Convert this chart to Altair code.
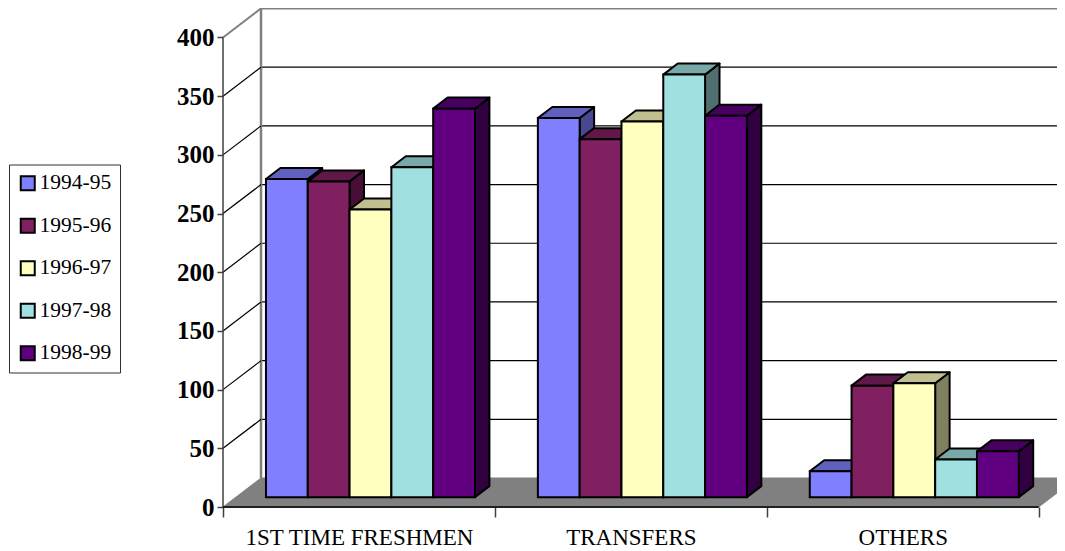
import altair as alt
import pandas as pd

SERIES = ["1994-95", "1995-96", "1996-97", "1997-98", "1998-99"]
CATEGORIES = ["1ST TIME FRESHMEN", "TRANSFERS", "OTHERS"]
V_1994 = [271, 323, 22]
V_1995 = [269, 305, 95]
V_1996 = [245, 320, 97]
V_1997 = [281, 360, 32]
V_1998 = [331, 325, 39]
VALUES = [V_1994, V_1995, V_1996, V_1997, V_1998]
TICKS = [0, 50, 100, 150, 200, 250, 300, 350, 400]

FRONT = ["#8080FF", "#802060", "#FFFFC0", "#A0E0E0", "#600080"]
TOP = ["#6060BF", "#601848", "#BFBF90", "#78A8A8", "#480060"]
SIDE = ["#484890", "#480F36", "#808060", "#507070", "#300040"]

FONT = "Liberation Serif"

# layout, in pixels of the plot area
PLOT_W, PLOT_H = 834, 499
SLOT_PX = 271.9
PX_PER_UNIT = 1.17375

# oblique projection of the 3-D box, expressed in data units
DEPTH_X = 38 / SLOT_PX
DEPTH_Y = 29 / PX_PER_UNIT
X_END = PLOT_W / SLOT_PX
Y_END = PLOT_H / PX_PER_UNIT
BAR_W = 41.8 / SLOT_PX
GAP = (1 - 5 * BAR_W) / 2 - 1.4 / SLOT_PX
Z_FRONT, Z_BACK = 0.34, 0.72


def px(x, z):
    return x + z * DEPTH_X


def py(v, z):
    return v + z * DEPTH_Y


xscale = alt.Scale(domain=[0, X_END], nice=False, zero=False)
yscale = alt.Scale(domain=[0, Y_END], nice=False, zero=False)

label_expr = "".join(
    f"datum.value == {i + 0.5} ? '{c}' : " for i, c in enumerate(CATEGORIES)
) + "''"

x_axis = alt.Axis(
    values=[0, 0.5, 1, 1.5, 2, 2.5, 3],
    title=None,
    grid=False,
    domain=False,
    tickSize=10,
    tickWidth=1.5,
    tickColor="#404040",
    tickOpacity={"condition": {"test": "datum.value % 1 != 0", "value": 0}, "value": 1},
    labelExpr=label_expr,
    labelFont=FONT,
    labelFontSize=23,
    labelColor="black",
    labelPadding=9,
    labelOverlap=False,
    labelFlush=False,
    labelBound=False,
    labelLimit=500,
)
y_axis = alt.Axis(
    values=TICKS,
    title=None,
    grid=False,
    domain=False,
    tickSize=6,
    tickWidth=1.5,
    tickColor="#404040",
    labelFont=FONT,
    labelFontSize=25,
    labelFontWeight="bold",
    labelColor="black",
    labelPadding=3,
    labelOverlap=False,
    labelBound=False,
)


def X():
    return alt.X("x:Q", scale=xscale, axis=x_axis)


def Y():
    return alt.Y("y:Q", scale=yscale, stack=None, axis=y_axis)


layers = []

# floor
fx0, fx1 = 0, 3
floor = pd.DataFrame(
    {
        "x": [px(fx0, 0), px(fx0, 1), px(fx1, 0), px(fx1, 1)],
        "y": [py(0, 0), py(0, 1), py(0, 1), py(0, 1)],
        "y2": [py(0, 0), py(0, 0), py(0, 0), py(0, 1)],
    }
)
layers.append(
    alt.Chart(floor)
    .mark_area(orient="vertical", fill="#808080", opacity=1, stroke="#808080", strokeWidth=1)
    .encode(x=X(), y=Y(), y2="y2:Q")
)

# back wall gridlines
grid = pd.DataFrame(
    {"x": px(0, 1), "x2": X_END, "y": [py(t, 1) for t in TICKS if 0 < t < 400]}
)
layers.append(
    alt.Chart(grid)
    .mark_rule(color="black", strokeWidth=1.2)
    .encode(x=X(), x2="x2:Q", y=Y())
)
top_line = pd.DataFrame({"x": [px(0, 1)], "x2": [X_END], "y": [py(400, 1)]})
layers.append(
    alt.Chart(top_line)
    .mark_rule(color="#808080", strokeWidth=2)
    .encode(x=X(), x2="x2:Q", y=Y())
)
wall = pd.DataFrame({"x": [px(0, 1)], "y": [py(0, 1)], "y2": [py(400, 1)]})
layers.append(
    alt.Chart(wall)
    .mark_rule(color="#808080", strokeWidth=2.5)
    .encode(x=X(), y=Y(), y2="y2:Q")
)

# oblique side-wall ticks
rows = []
for t in TICKS[1:]:
    rows.append({"t": t, "x": px(0, 0), "y": py(t, 0)})
    rows.append({"t": t, "x": px(0, 1), "y": py(t, 1)})
oblique = pd.DataFrame(rows)
layers.append(
    alt.Chart(oblique[oblique.t < 400])
    .mark_line(color="black", strokeWidth=1.2)
    .encode(x=X(), y=Y(), detail="t:N")
)
layers.append(
    alt.Chart(oblique[oblique.t == 400])
    .mark_line(color="#808080", strokeWidth=2)
    .encode(x=X(), y=Y(), detail="t:N")
)

# front axis lines
front_axis = pd.DataFrame({"x": [0], "y": [0], "y2": [400]})
layers.append(
    alt.Chart(front_axis)
    .mark_rule(color="#404040", strokeWidth=1.5)
    .encode(x=X(), y=Y(), y2="y2:Q")
)
base = pd.DataFrame({"x": [0], "x2": [3], "y": [0]})
layers.append(
    alt.Chart(base)
    .mark_rule(color="#202020", strokeWidth=2)
    .encode(x=X(), x2="x2:Q", y=Y())
)

# bars, painted from left to right
legend = alt.Legend(
    title=None,
    orient="none",
    legendX=-214,
    legendY=156.5,
    symbolType="square",
    symbolSize=196,
    symbolStrokeColor="black",
    symbolStrokeWidth=2,
    symbolOpacity=1,
    labelFont=FONT,
    labelFontSize=21.5,
    labelColor="black",
    labelOffset=1,
    rowPadding=19.5,
    fillColor="white",
    strokeColor="#303030",
    padding=8,
    labelLimit=200,
)

for s, name in enumerate(SERIES):
    top_rows, side_rows, front_rows = [], [], []
    for c, cat in enumerate(CATEGORIES):
        v = VALUES[s][c]
        x0 = c + GAP + s * BAR_W
        x1 = x0 + BAR_W
        xl0, xl1 = px(x0, Z_FRONT), px(x1, Z_FRONT)
        xb0, xb1 = px(x0, Z_BACK), px(x1, Z_BACK)
        yf, yb = py(v, Z_FRONT), py(v, Z_BACK)
        bf, bb = py(0, Z_FRONT), py(0, Z_BACK)
        top_rows += [
            {"c": c, "x": xl0, "y": yf, "y2": yf},
            {"c": c, "x": xb0, "y": yb, "y2": yf},
            {"c": c, "x": xl1, "y": yb, "y2": yf},
            {"c": c, "x": xb1, "y": yb, "y2": yb},
        ]
        side_rows += [
            {"c": c, "x": xl1, "y": yf, "y2": bf},
            {"c": c, "x": xb1, "y": yb, "y2": bb},
        ]
        front_rows.append({"c": c, "series": name, "x": xl0, "x2": xl1, "y": yf, "y2": bf})
    layers.append(
        alt.Chart(pd.DataFrame(side_rows))
        .mark_area(orient="vertical", fill=SIDE[s], opacity=1, stroke="black", strokeWidth=2, strokeJoin="round")
        .encode(x=X(), y=Y(), y2="y2:Q", detail="c:N")
    )
    layers.append(
        alt.Chart(pd.DataFrame(top_rows))
        .mark_area(orient="vertical", fill=TOP[s], opacity=1, stroke="black", strokeWidth=2, strokeJoin="round")
        .encode(x=X(), y=Y(), y2="y2:Q", detail="c:N")
    )
    layers.append(
        alt.Chart(pd.DataFrame(front_rows))
        .mark_rect(stroke="black", strokeWidth=2, opacity=1)
        .encode(
            x=X(),
            x2="x2:Q",
            y=Y(),
            y2="y2:Q",
            color=alt.Color(
                "series:N",
                scale=alt.Scale(domain=SERIES, range=FRONT),
                legend=legend,
            ),
        )
    )

chart = (
    alt.layer(*layers)
    .properties(
        width=PLOT_W,
        height=PLOT_H,
        padding={"left": 215, "top": 0, "right": 0, "bottom": 44},
        autosize=alt.AutoSizeParams(type="none"),
    )
    .configure_view(stroke=None)
)

chart.save("out.html", embed_options={"renderer": "svg", "actions": False})
